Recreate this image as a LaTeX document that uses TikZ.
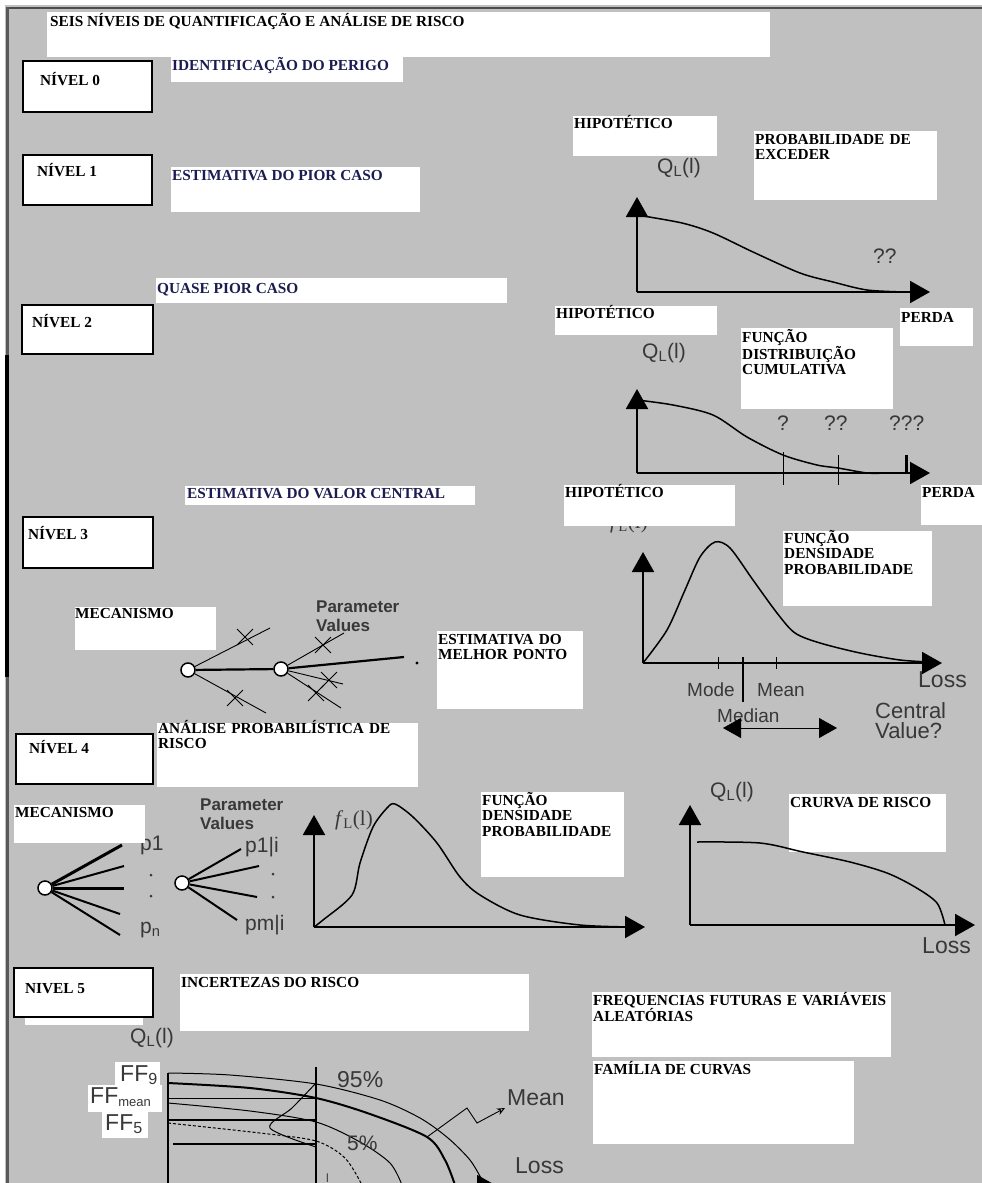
\documentclass[tikz,border=0pt]{standalone}
\usepackage{fontspec}
\setmainfont{Liberation Serif}
\setsansfont{Liberation Sans}
\usetikzlibrary{arrows.meta,shapes.misc}
\definecolor{bggray}{HTML}{C0C0C0}
\definecolor{navytxt}{HTML}{1C1C50}
\definecolor{labgray}{HTML}{383838}

\begin{document}
\begin{tikzpicture}[x=1pt,y=-1pt,
wbox/.style={fill=white, anchor=north west, inner sep=0pt, outer sep=0pt},
lvlbox/.style={wbox, draw=black, line width=2pt},
txt/.style={anchor=base west, inner sep=0pt, align=left, font=\bfseries\fontsize{15.3}{15.5}\selectfont},
ntxt/.style={txt, text=navytxt},
gtxt/.style={anchor=base west, inner sep=0pt, text=labgray, font=\sffamily\fontsize{21}{21}\selectfont},
ptxt/.style={gtxt, text width=100pt, font=\sffamily\bfseries\fontsize{17}{19}\selectfont},
axis/.style={line width=2pt, -{Triangle[width=22pt,length=20pt]}},
crv/.style={line width=1.5pt},
br/.style={line width=0.9pt},
thk/.style={line width=2.2pt},
xmark/.style={draw, cross out, line width=0.9pt, minimum size=15pt, inner sep=0pt},
knot/.style={circle, draw, fill=white, line width=1.5pt, minimum size=14pt, inner sep=0pt}]
\useasboundingbox (0,0) rectangle (982,1183);
\fill[bggray] (0,0) rectangle (982,1183);
\fill[white] (0,0) rectangle (5,1183);
\fill[white] (0,0) rectangle (982,5);
\draw[line width=2.5pt, black!70] (6,8) -- (982,8);
\draw[line width=3pt, black!65] (7,7) -- (7,1183);
\draw[line width=4pt] (7,355) -- (7,677);

% labels lying under the boxes
\node[gtxt, font=\rmfamily\fontsize{21}{21}\selectfont] (f3) at (610,528) {\textit{f}\textsubscript{L}(l)};
\node[gtxt] (p1) at (140,850) {p1};

% boxes
\node[wbox, minimum width=723pt, minimum height=45pt] (title) at (47,12) {};
\node[txt] (titletxt) at (50,27) {SEIS NÍVEIS DE QUANTIFICAÇÃO E ANÁLISE DE RISCO};
\node[lvlbox, minimum width=129pt, minimum height=51pt] (lvl0) at (23,61) {};
\node[txt] (lvl0txt) at (40,85) {NÍVEL 0};
\node[wbox, minimum width=232pt, minimum height=25pt] (hazard) at (171,57) {};
\node[ntxt] (hazardtxt) at (172,70) {IDENTIFICAÇÃO DO PERIGO};
\node[lvlbox, minimum width=129pt, minimum height=50pt] (lvl1) at (23,155) {};
\node[txt] (lvl1txt) at (37,176) {NÍVEL 1};
\node[wbox, minimum width=249pt, minimum height=45pt] (worst) at (171,167) {};
\node[ntxt] (worsttxt) at (172,180) {ESTIMATIVA DO PIOR CASO};
\node[wbox, minimum width=144pt, minimum height=40pt] (hip1) at (573,116) {};
\node[txt] (hip1txt) at (574,128) {HIPOTÉTICO};
\node[wbox, minimum width=183pt, minimum height=69pt] (exceed) at (754,131) {};
\node[txt, text width=180pt] (exceedtxt) at (755,144) {PROBABILIDADE DE\\EXCEDER};

\node[wbox, minimum width=351pt, minimum height=25pt] (near) at (156,278) {};
\node[ntxt] (neartxt) at (157,293) {QUASE PIOR CASO};
\node[lvlbox, minimum width=131pt, minimum height=49pt] (lvl2) at (22,305) {};
\node[txt] (lvl2txt) at (32,327) {NÍVEL 2};
\node[wbox, minimum width=162pt, minimum height=29pt] (hip2) at (555,306) {};
\node[txt] (hip2txt) at (556,318) {HIPOTÉTICO};
\node[wbox, minimum width=73pt, minimum height=38pt] (loss1) at (900,308) {};
\node[txt] (loss1txt) at (901,322) {PERDA};
\node[wbox, minimum width=152pt, minimum height=81pt] (cdf) at (741,328) {};
\node[txt, text width=150pt] (cdftxt) at (742,342) {FUNÇÃO\\DISTRIBUIÇÃO\\CUMULATIVA};

\node[wbox, minimum width=290pt, minimum height=19pt] (central) at (185,486) {};
\node[ntxt] (centraltxt) at (187,498) {ESTIMATIVA DO VALOR CENTRAL};
\node[wbox, minimum width=171pt, minimum height=41pt] (hip3) at (564,485) {};
\node[txt] (hip3txt) at (565,497) {HIPOTÉTICO};
\node[wbox, minimum width=61pt, minimum height=40pt] (loss2) at (921,485) {};
\node[txt] (loss2txt) at (922,497) {PERDA};
\node[lvlbox, minimum width=130pt, minimum height=51pt] (lvl3) at (23,517) {};
\node[txt] (lvl3txt) at (28,539) {NÍVEL 3};
\node[wbox, minimum width=149pt, minimum height=75pt] (pdf3) at (783,531) {};
\node[txt, text width=147pt] (pdf3txt) at (784,543) {FUNÇÃO\\DENSIDADE\\PROBABILIDADE};
\node[wbox, minimum width=141pt, minimum height=43pt] (mech3) at (75,607) {};
\node[txt] (mech3txt) at (75,618) {MECANISMO};
\node[wbox, minimum width=146pt, minimum height=78pt] (best) at (437,631) {};
\node[txt, text width=144pt] (besttxt) at (438,644) {ESTIMATIVA DO\\MELHOR PONTO};

\node[wbox, minimum width=261pt, minimum height=64pt] (pra) at (157,723) {};
\node[txt, text width=259pt] (pratxt) at (158,733) {ANÁLISE PROBABILÍSTICA DE\\RISCO};
\node[lvlbox, minimum width=137pt, minimum height=50pt] (lvl4) at (16,734) {};
\node[txt] (lvl4txt) at (29,753) {NÍVEL 4};
\node[wbox, minimum width=131pt, minimum height=38pt] (mech4) at (14,805) {};
\node[txt] (mech4txt) at (15,817) {MECANISMO};
\node[wbox, minimum width=143pt, minimum height=85pt] (pdf4) at (481,792) {};
\node[txt, text width=141pt] (pdf4txt) at (482,805) {FUNÇÃO\\DENSIDADE\\PROBABILIDADE};
\node[wbox, minimum width=157pt, minimum height=58pt] (riskc) at (789,794) {};
\node[txt] (riskctxt) at (790,807) {CRURVA DE RISCO};

\node[wbox, minimum width=118pt, minimum height=10pt] (lvl5strip) at (25,1015) {};
\node[lvlbox, minimum width=139pt, minimum height=49pt] (lvl5) at (14,968) {};
\node[txt] (lvl5txt) at (25,993) {NIVEL 5};
\node[wbox, minimum width=349pt, minimum height=57pt] (unc) at (180,974) {};
\node[txt] (unctxt) at (181,987) {INCERTEZAS DO RISCO};
\node[wbox, minimum width=299pt, minimum height=65pt] (freq) at (592,992) {};
\node[txt, text width=297pt] (freqtxt) at (593,1005) {FREQUENCIAS FUTURAS E VARIÁVEIS\\ALEATÓRIAS};
\node[wbox, minimum width=261pt, minimum height=83pt] (fam) at (593,1061) {};
\node[txt] (famtxt) at (594,1074) {FAMÍLIA DE CURVAS};

% nivel 1 curve
\coordinate (o1) at (637,292);
\coordinate (y1) at (637,197);
\coordinate (x1) at (930,292);
\draw[axis] (o1) -- (y1);
\draw[axis] (o1) -- (x1);
\draw[crv] plot[smooth] coordinates {(637,215) (682,223) (713,233) (753,252) (800,273) (833,282) (867,290) (905,292)};
\node[gtxt] (q1) at (657,173) {Q\textsubscript{L}(l)};
\node[gtxt] (qq1) at (873,263) {??};

% nivel 2 curve
\coordinate (o2) at (637,473);
\coordinate (y2) at (637,389);
\coordinate (x2) at (930,473);
\draw[axis] (o2) -- (y2);
\draw[axis] (o2) -- (x2);
\draw[crv] plot[smooth] coordinates {(637,400) (673,405) (713,415) (747,437) (783,455) (817,465) (838,468) (867,473) (885,473)};
\draw[line width=1pt] (783,452) -- (783,485);
\draw[line width=1pt] (838,455) -- (838,485);
\draw[line width=3pt] (906,455) -- (906,473);
\node[gtxt] (q2) at (642,358) {Q\textsubscript{L}(l)};
\node[gtxt] (qa) at (777,430) {?};
\node[gtxt] (qb) at (824,430) {??};
\node[gtxt] (qc) at (889,430) {???};

% nivel 3 density
\coordinate (o3) at (643,663);
\coordinate (y3) at (643,552);
\coordinate (x3) at (942,663);
\draw[axis] (o3) -- (y3);
\draw[axis] (o3) -- (x3);
\draw[crv] plot[smooth] coordinates {(643,663) (667,630) (685,590) (700,557) (715,542) (730,548) (753,580) (777,613) (795,633) (820,643) (860,653) (900,660) (930,662)};
\draw[line width=1pt] (718,657) -- (718,669);
\draw[line width=1pt] (776,657) -- (776,669);
\draw[line width=1.5pt] (743,657) -- (743,702);
\node[gtxt, font=\sffamily\fontsize{19}{19}\selectfont] (mode) at (687,696) {Mode};
\node[gtxt, font=\sffamily\fontsize{19}{19}\selectfont] (mean3) at (757,696) {Mean};
\node[gtxt, font=\sffamily\fontsize{19}{19}\selectfont] (median) at (717,722) {Median};
\node[gtxt, font=\sffamily\fontsize{23}{23}\selectfont] (loss3) at (918,687) {Loss};
\node[gtxt, text width=90pt, font=\sffamily\fontsize{22}{20}\selectfont] (cval) at (875,718) {Central\\Value?};
\coordinate (ml) at (723,728);
\coordinate (mr) at (837,728);
\draw[line width=0.8pt, {Triangle[width=20pt,length=18pt]}-{Triangle[width=20pt,length=18pt]}] (ml) -- (mr);

% nivel 3 tree
\node[knot] (m1) at (188,670) {};
\node[knot] (m2) at (281,669) {};
\coordinate (m1a) at (270,628);
\coordinate (m1b) at (266,713);
\coordinate (m2a) at (344,633);
\coordinate (m2b) at (404,657);
\coordinate (m2c) at (343,684);
\coordinate (m2d) at (341,708);
\draw[br] (m1) -- (m1a);
\draw[br] (m1) -- (m1b);
\draw[thk] (m1) -- (m2);
\draw[br] (m2) -- (m2a);
\draw[thk] (m2) -- (m2b);
\draw[br] (m2) -- (m2c);
\draw[br] (m2) -- (m2d);
\node[xmark] (xa) at (245,637) {};
\node[xmark] (xb) at (235,698) {};
\node[xmark] (xc) at (323,645) {};
\node[xmark] (xd) at (329,680) {};
\node[xmark] (xe) at (316,693) {};
\fill (417,663) circle (1.6);
\node[ptxt] (param3) at (316,612) {Parameter\\Values};

% nivel 4 tree
\node[knot] (k1) at (45,888) {};
\node[knot] (k2) at (182,883) {};
\coordinate (k1a) at (122,845);
\coordinate (k1b) at (124,866);
\coordinate (k1c) at (124,888);
\coordinate (k1d) at (120,914);
\coordinate (k1e) at (120,935);
\draw[line width=3pt] (k1) -- (k1a);
\draw[line width=2pt] (k1) -- (k1b);
\draw[line width=3pt] (k1) -- (k1c);
\draw[line width=2pt] (k1) -- (k1d);
\draw[line width=2pt] (k1) -- (k1e);
\coordinate (k2a) at (241,849);
\coordinate (k2b) at (259,866);
\coordinate (k2c) at (257,897);
\coordinate (k2d) at (237,920);
\draw[line width=2pt] (k2) -- (k2a);
\draw[line width=2pt] (k2) -- (k2b);
\draw[line width=2pt] (k2) -- (k2c);
\draw[line width=2pt] (k2) -- (k2d);
\foreach \px/\py in {151/875,151/896,273/874,273/897}
  \fill[labgray] (\px,\py) circle (1.5);
\node[gtxt] (pn) at (140,933) {p\textsubscript{n}};
\node[gtxt] (p1i) at (245,852) {p1|i};
\node[gtxt] (pmi) at (245,930) {pm|i};
\node[ptxt] (param4) at (200,810) {Parameter\\Values};

% nivel 4 density
\coordinate (o4) at (314,927);
\coordinate (y4) at (314,815);
\coordinate (x4) at (645,927);
\draw[axis] (o4) -- (y4);
\draw[axis] (o4) -- (x4);
\draw[crv] plot[smooth] coordinates {(314,927) (323,920) (352,895) (360,863) (373,827) (387,808) (395,804) (413,817) (437,843) (460,877) (480,895) (520,915) (580,925) (635,927)};
\node[gtxt, font=\rmfamily\fontsize{21}{21}\selectfont] (f4) at (335,825) {\textit{f}\textsubscript{L}(l)};

% nivel 4 risk curve
\coordinate (o5) at (690,925);
\coordinate (y5) at (690,805);
\coordinate (x5) at (975,925);
\draw[axis] (o5) -- (y5);
\draw[axis] (o5) -- (x5);
\draw[crv] plot[smooth] coordinates {(697,842) (760,843) (803,852) (850,862) (887,873) (915,887) (937,903) (945,925)};
\node[gtxt] (q4) at (710,797) {Q\textsubscript{L}(l)};
\node[gtxt, font=\sffamily\fontsize{23}{23}\selectfont] (loss4) at (922,953) {Loss};

% nivel 5 family of curves
\coordinate (o6) at (168,1186);
\coordinate (y6) at (168,1073);
\coordinate (x6) at (497,1186);
\draw[line width=1.2pt] (o6) -- (y6);
\draw[axis] (o6) -- (x6);
\draw[line width=1.2pt] (316,1067) -- (316,1190);
\draw[line width=0.8pt] (168,1098) -- (316,1098);
\draw[line width=2pt] (168,1120) -- (316,1120);
\draw[line width=2pt] (173,1144) -- (316,1144);
\draw[line width=1pt] plot[smooth] coordinates {(168,1073) (230,1075) (316,1084) (380,1100) (420,1118) (448,1138) (470,1160) (482,1180)};
\draw[line width=2pt] plot[smooth] coordinates {(168,1083) (250,1088) (316,1098) (370,1114) (427,1137) (445,1160) (455,1185)};
\draw[line width=1pt] plot[smooth] coordinates {(168,1103) (250,1111) (316,1122) (360,1142) (390,1163) (402,1185)};
\draw[line width=1pt, densely dashed] plot[smooth] coordinates {(168,1123) (260,1133) (316,1141) (345,1158) (362,1185)};
\draw[line width=1pt] plot[smooth] coordinates {(316,1083) (292,1108) (270,1128) (316,1147)};
\coordinate (mpt) at (427,1137);
\coordinate (mtip) at (505,1108);
\draw[line width=0.9pt, -{Stealth[open,length=8pt,width=7pt]}] (mpt) -- (467,1108) -- (477,1123) -- (mtip);
\node[gtxt] (q6) at (130,1043) {Q\textsubscript{L}(l)};
\node[fill=white, anchor=north west, inner sep=0pt, minimum width=45pt, minimum height=25pt] (ffa) at (115,1062) {};
\node[fill=white, anchor=north west, inner sep=0pt, minimum width=74pt, minimum height=27pt] (ffb) at (88,1085) {};
\node[fill=white, anchor=north west, inner sep=0pt, minimum width=46pt, minimum height=26pt] (ffc) at (102,1112) {};
\node[gtxt, font=\sffamily\fontsize{23}{23}\selectfont] (ffatxt) at (120,1081) {FF\textsubscript{9}};
\node[gtxt, font=\sffamily\fontsize{23}{23}\selectfont] (ffbtxt) at (90,1103) {FF\textsubscript{\fontsize{13}{13}\selectfont mean}};
\node[gtxt, font=\sffamily\fontsize{23}{23}\selectfont] (ffctxt) at (105,1130) {FF\textsubscript{5}};
\node[gtxt, font=\sffamily\fontsize{23}{23}\selectfont] (p95) at (337,1087) {95\%};
\node[gtxt] (p5) at (347,1150) {5\%};
\node[gtxt, font=\sffamily\fontsize{23}{23}\selectfont] (mean6) at (507,1105) {Mean};
\node[gtxt, font=\sffamily\fontsize{23}{23}\selectfont] (loss6) at (515,1173) {Loss};
\node[gtxt, font=\sffamily\fontsize{12}{12}\selectfont] (lax) at (326,1182) {l};
\end{tikzpicture}
\end{document}
